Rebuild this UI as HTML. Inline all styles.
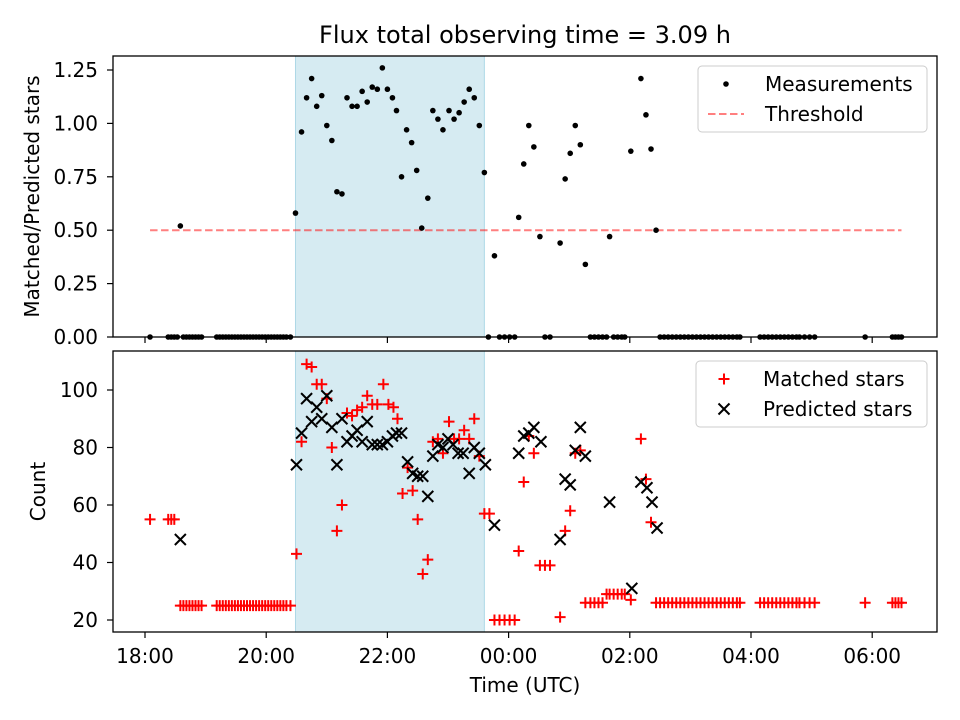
<!DOCTYPE html>
<html><head><meta charset="utf-8">
<style>
body{margin:0;background:#fff;}
svg{display:block;font-family:"DejaVu Sans","Liberation Sans",sans-serif;}
</style></head>
<body>
<svg id="c" width="960" height="720" viewBox="0 0 960 720" xmlns="http://www.w3.org/2000/svg"></svg>
<script>
// ---- data (time in minutes since 18:00 UTC) ----
const ratioTimes = [5,23,26,29,32,35,38,41,44,47,50,53,56,71,74,77,80,83,86,89,92,95,98,101,104,107,110,113,116,119,122,125,128,131,134,137,140,144,
149,155,160,165,170,175,180,185,190,195,200,205,210,215,220,225,230,235,240,245,249,254,259,264,269,274,280,285,290,295,301,306,311,316,321,326,331,336,
340,346,351,356,361,366,370,375,380,385,391,396,401,411,416,421,426,431,436,441,445,449,453,457,460,464,468,472,475,481,491,496,501,506,
510,514,518,522,526,530,534,538,542,546,550,554,558,562,566,570,574,578,582,586,589,609,613,617,621,625,629,633,637,641,645,648,653,658,663,713,740,743,746,749];
const ratioValues = [0,0,0,0,0,0.52,0,0,0,0,0,0,0,0,0,0,0,0,0,0,0,0,0,0,0,0,0,0,0,0,0,0,0,0,0,0,0,0,
0.58,0.96,1.12,1.21,1.08,1.13,0.99,0.92,0.68,0.67,1.12,1.08,1.08,1.15,1.10,1.17,1.16,1.26,1.16,1.12,1.06,0.75,0.97,0.91,0.78,0.51,0.65,1.06,1.02,0.97,1.06,1.02,1.05,1.10,1.16,1.12,0.99,0.77,
0,0.38,0,0,0,0,0.56,0.81,0.99,0.89,0.47,0,0,0.44,0.74,0.86,0.99,0.90,0.34,0,0,0,0,0,0.47,0,0,0,0,0.87,1.21,1.04,0.88,0.50,
0,0,0,0,0,0,0,0,0,0,0,0,0,0,0,0,0,0,0,0,0,0,0,0,0,0,0,0,0,0,0,0,0,0,0,0,0,0,0,0];
const matchedTimes = [5,23,26,29,35,38,41,44,47,50,53,56,71,74,77,80,83,86,89,92,95,98,101,104,107,110,113,116,119,122,125,128,131,134,137,140,144,
150,155,160,165,170,175,180,185,190,195,200,205,210,215,220,225,230,236,241,246,250,255,260,265,270,275,280,285,290,295,301,306,311,316,321,326,331,336,341,
346,351,356,361,366,370,375,380,385,391,396,401,411,416,421,426,431,436,441,445,449,453,457,460,464,468,472,475,481,491,496,501,506,
510,514,518,522,526,530,534,538,542,546,550,554,558,562,566,570,574,578,582,586,589,609,613,617,621,625,629,633,637,641,645,648,653,658,663,713,740,743,746,749];
const matchedValues = [55,55,55,55,25,25,25,25,25,25,25,25,25,25,25,25,25,25,25,25,25,25,25,25,25,25,25,25,25,25,25,25,25,25,25,25,25,
43,82,109,108,102,102,97,80,51,60,92,91,93,94,98,95,95,102,95,94,90,64,73,65,55,36,41,82,83,78,89,83,83,86,83,90,77,57,57,
20,20,20,20,20,44,68,84,78,39,39,39,21,51,58,78,79,26,26,26,26,26,29,29,29,29,29,29,27,83,69,54,26,
26,26,26,26,26,26,26,26,26,26,26,26,26,26,26,26,26,26,26,26,26,26,26,26,26,26,26,26,26,26,26,26,26,26,26,26,26,26,26,26];
const predictedTimes = [35,150,155,160,165,170,175,180,185,190,195,200,205,210,215,220,225,230,235,240,245,249,254,260,265,270,275,280,285,290,295,300,305,310,315,321,326,331,337,
346,370,375,380,385,392,411,416,421,426,431,436,460,482,491,497,502,507];
const predictedValues = [48,74,85,97,89,94,90,98,87,74,90,82,84,86,82,89,81,81,81,82,84,85,85,75,71,70,70,63,77,81,80,83,81,78,78,71,80,78,74,
53,78,84,85,87,82,48,69,67,79,87,77,61,31,68,66,61,52];
const xTickLabels = ["18:00","20:00","22:00","00:00","02:00","04:00","06:00"];
const xTickMinutes = [0,120,240,360,480,600,720];
const topTicks = [0,0.25,0.5,0.75,1.0,1.25];
const topTickLabels = ["0.00","0.25","0.50","0.75","1.00","1.25"];
const botTicks = [20,40,60,80,100];
const threshold = 0.5;
const thresholdRange = [5,749];
const shadeRange = [149,336];

// ---- scales ----
const L=113,R=937, T1=56,B1=337, T2=351,B2=632;
const FS=20;
const x = m => 145 + m*121.2/120;
const y1 = v => 337 - v*213.6;
const y2 = v => 620 - (v-20)*2.875;
const svg=document.getElementById('c');
const NS='http://www.w3.org/2000/svg';
function mk(tag,attrs,parent){const e=document.createElementNS(NS,tag);for(const k in attrs)e.setAttribute(k,attrs[k]);(parent||svg).appendChild(e);return e;}

// title
let t=mk('text',{x:525,y:43,'text-anchor':'middle','font-size':24,fill:'#000'});
t.textContent='Flux total observing time = 3.09 h';



function panel(top,bot,name){
  const g=mk('g',{});
  
  
  const sh=mk('rect',{x:x(shadeRange[0]),y:top,width:x(shadeRange[1])-x(shadeRange[0]),height:bot-top,fill:'#add8e6','fill-opacity':0.5,stroke:'#add8e6'},g);
  
  
  return g;
}
const g1=panel(T1,B1,'top-panel');
const g2=panel(T2,B2,'bottom-panel');

// threshold line
const th=mk('line',{x1:x(thresholdRange[0]),x2:x(thresholdRange[1]),y1:y1(threshold),y2:y1(threshold),stroke:'#ff0000','stroke-opacity':0.5,'stroke-width':2,'stroke-dasharray':'7.5,3.5'},g1);



// measurements
ratioTimes.forEach((m,i)=>{
  const c=mk('circle',{cx:x(m),cy:y1(ratioValues[i]),r:2.8,fill:'#000'},g1);
  
  
});
// matched +
matchedTimes.forEach((m,i)=>{
  const cx=x(m),cy=y2(matchedValues[i]),s=5.5;
  const p=mk('path',{d:`M${cx-s},${cy}H${cx+s}M${cx},${cy-s}V${cy+s}`,stroke:'#ff0000','stroke-width':2,fill:'none'},g2);
  
  
});
// predicted x
predictedTimes.forEach((m,i)=>{
  const cx=x(m),cy=y2(predictedValues[i]),s=5.5;
  const p=mk('path',{d:`M${cx-s},${cy-s}L${cx+s},${cy+s}M${cx-s},${cy+s}L${cx+s},${cy-s}`,stroke:'#000','stroke-width':2,fill:'none'},g2);
  
  
});

// axes frames
[[T1,B1,'top-axes-frame'],[T2,B2,'bottom-axes-frame']].forEach(([a,b,n])=>{
  const r=mk('rect',{x:L,y:a,width:R-L,height:b-a,fill:'none',stroke:'#000','stroke-width':1.3});
  
  
});
// x ticks
xTickMinutes.forEach((m,i)=>{
  const xx=x(m);
  mk('line',{x1:xx,x2:xx,y1:B1,y2:B1+6,stroke:'#000','stroke-width':1.2});
  mk('line',{x1:xx,x2:xx,y1:B2,y2:B2+6,stroke:'#000','stroke-width':1.2});
  const tl=mk('text',{x:xx,y:B2+31,'text-anchor':'middle','font-size':FS});
  tl.textContent=xTickLabels[i];
  
  
});
topTicks.forEach((v,i)=>{
  const yy=y1(v);
  mk('line',{x1:L-6,x2:L,y1:yy,y2:yy,stroke:'#000','stroke-width':1.2});
  const tl=mk('text',{x:L-15,y:yy+7,'text-anchor':'end','font-size':FS});
  tl.textContent=topTickLabels[i];
  
  
});
botTicks.forEach(v=>{
  const yy=y2(v);
  mk('line',{x1:L-6,x2:L,y1:yy,y2:yy,stroke:'#000','stroke-width':1.2});
  const tl=mk('text',{x:L-15,y:yy+7,'text-anchor':'end','font-size':FS});
  tl.textContent=String(v);
  
  
});
// axis titles
let a=mk('text',{x:525,y:692,'text-anchor':'middle','font-size':FS});
a.textContent='Time (UTC)';


a=mk('text',{x:0,y:0,'text-anchor':'middle','font-size':FS,transform:`translate(39,${(T1+B1)/2}) rotate(-90)`});
a.textContent='Matched/Predicted stars';


a=mk('text',{x:0,y:0,'text-anchor':'middle','font-size':FS,transform:`translate(45,${(T2+B2)/2}) rotate(-90)`});
a.textContent='Count';



// legends
function legend(x0,y0,w,items,name){
  const g=mk('g',{});
  
  
  mk('rect',{x:x0,y:y0,width:w,height:66,rx:4,fill:'#fff','fill-opacity':0.8,stroke:'#cccccc'},g);
  items.forEach((it,i)=>{
    const cy=y0+18+i*30;
    it.draw(g,x0+28,cy);
    const tx=mk('text',{x:x0+67,y:cy+7,'font-size':FS},g);
    tx.textContent=it.label;
    
    
  });
}
legend(698,66,229,[
  {label:'Measurements',draw:(g,cx,cy)=>mk('circle',{cx:cx,cy:cy,r:2.8,fill:'#000'},g)},
  {label:'Threshold',draw:(g,cx,cy)=>mk('line',{x1:cx-18,x2:cx+18,y1:cy,y2:cy,stroke:'#ff0000','stroke-opacity':0.5,'stroke-width':2,'stroke-dasharray':'7.5,3.5'},g)}
],'top-legend');
legend(696,361,231,[
  {label:'Matched stars',draw:(g,cx,cy)=>mk('path',{d:`M${cx-5.5},${cy}H${cx+5.5}M${cx},${cy-5.5}V${cy+5.5}`,stroke:'#ff0000','stroke-width':2},g)},
  {label:'Predicted stars',draw:(g,cx,cy)=>mk('path',{d:`M${cx-5.5},${cy-5.5}L${cx+5.5},${cy+5.5}M${cx-5.5},${cy+5.5}L${cx+5.5},${cy-5.5}`,stroke:'#000','stroke-width':2},g)}
],'bottom-legend');
</script>
</body></html>
